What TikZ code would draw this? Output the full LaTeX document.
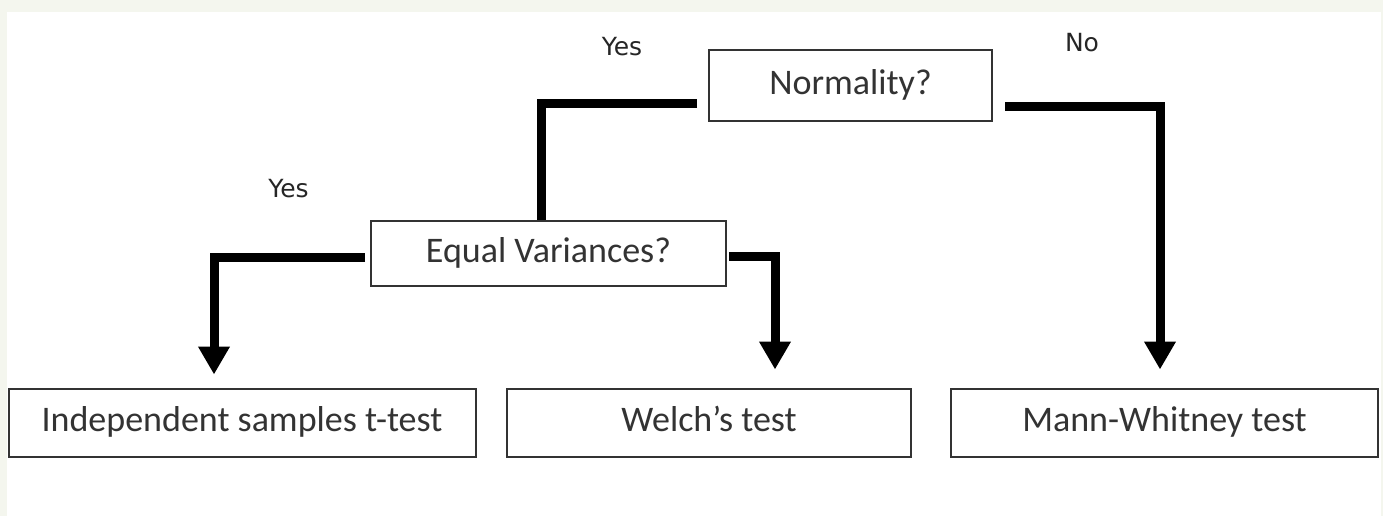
\documentclass[tikz,border=0pt]{standalone}
\usepackage{fontspec}
\setmainfont{Carlito}
\newfontfamily\labelfont{DejaVu Sans}
\usetikzlibrary{arrows.meta,calc}
\definecolor{outerbg}{HTML}{F4F6EE}
\begin{document}
\begin{tikzpicture}[x=1pt,y=-1pt,
  box/.style={draw=black!80, line width=2pt, rectangle, inner sep=0pt, text=black!80,
    font=\fontsize{36}{42}\selectfont, fill=white, text height=25pt, text depth=7pt},
  conn/.style={line width=9pt, line cap=butt, line join=miter},
  arr/.style={conn, -{Triangle[width=30pt,length=28pt]}},
  lbl/.style={font=\labelfont\fontsize{25}{30}\selectfont, text=black!85, inner sep=0pt}
]
\fill[outerbg] (0,0) rectangle (1383,516);
\fill[white] (7,12) rectangle (1381,516);
\useasboundingbox (0,0) rectangle (1383,516);

\node[box, minimum width=283pt, minimum height=71pt] (norm) at (850.5,85.5) {Normality?};
\node[box, minimum width=355pt, minimum height=65pt] (ev) at (548.5,253.5) {Equal Variances?};
\node[box, minimum width=467pt, minimum height=68pt] (ind) at (242,422.5) {Independent samples t-test};
\node[box, minimum width=404pt, minimum height=68pt] (welch) at (709,422.5) {Welch’s test};
\node[box, minimum width=427pt, minimum height=68pt] (mw) at (1164.5,422.5) {Mann-Whitney test};

\coordinate (nl) at (541,104);
\draw[conn] ($(norm.west |- nl)+(-11,0)$) -- (nl) -- (nl |- ev.north);

\coordinate (nr) at (1160,107);
\draw[arr] ($(norm.east |- nr)+(12,0)$) -- (nr) -- ($(nr |- mw.north)+(0,-18)$);

\coordinate (el) at (214,257);
\draw[arr] ($(ev.west |- el)+(-5,0)$) -- (el) -- ($(el |- ind.north)+(0,-13)$);

\coordinate (er) at (775,256);
\draw[arr] ($(ev.east |- er)+(2,0)$) -- (er) -- ($(er |- welch.north)+(0,-18)$);

\node[lbl] (yes1) at (622,47) {Yes};
\node[lbl] (no) at (1082,43) {No};
\node[lbl] (yes2) at (288.5,188.5) {Yes};
\end{tikzpicture}
\end{document}
